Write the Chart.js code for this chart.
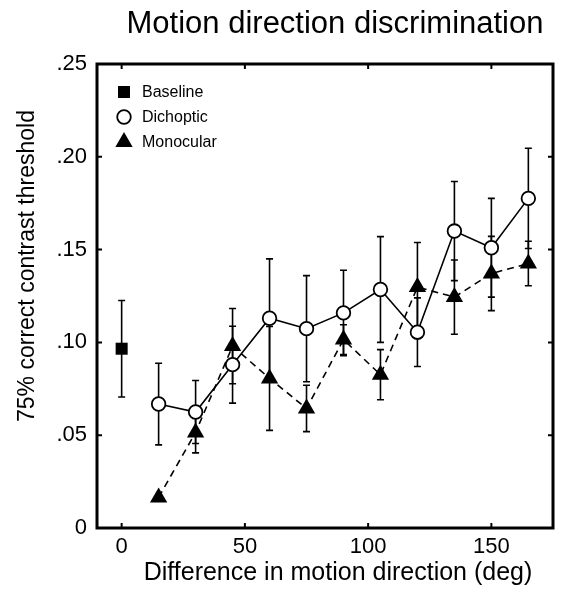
<!DOCTYPE html>
<html lang="en">
<head>
  <meta charset="UTF-8">
  <title>Motion direction discrimination</title>
  <script src="https://cdn.jsdelivr.net/npm/chart.js"></script>
  <style>
    body { margin: 0; background: #fff; }
    #chart { display: block; }
  </style>
</head>
<body>
  <canvas id="chart" width="563" height="599"></canvas>

  <script>
    // values
    var angles = [15, 30, 45, 60, 75, 90, 105, 120, 135, 150, 165];
    var dichoptic = [0.0668, 0.0625, 0.0880, 0.1130, 0.1074, 0.1159, 0.1285, 0.1055, 0.1600, 0.1510, 0.1776];
    var dichopticErr = [0.022, 0.017, 0.0207, 0.032, 0.0286, 0.023, 0.0285, 0.0185, 0.0267, 0.0266, 0.027];
    var monocular = [0.0165, 0.0515, 0.0980, 0.0806, 0.0644, 0.1015, 0.0826, 0.1298, 0.1244, 0.1371, 0.1425];
    var monocularErr = [0, 0.011, 0.0203, 0.028, 0.0125, 0.008, 0.0135, 0.024, 0.020, 0.020, 0.012];
    var baselineX = [0];
    var baseline = [0.0966];
    var baselineErr = [0.026];

    var xTicks = [0, 50, 100, 150];
    var yTicks = [0, 0.05, 0.10, 0.15, 0.20, 0.25];
    var legendNames = ['Baseline', 'Dichoptic', 'Monocular'];

    var FONT = "'Liberation Sans', Arial, Helvetica, sans-serif";

    function toPoints(xs, ys) {
      return xs.map(function(x, i) { return { x: x, y: ys[i] }; });
    }

    // error bars, frame with inward ticks, title, axis titles and legend
    var decor = {
      id: 'decor',
      beforeDatasetsDraw: function(chart) {
        var ctx = chart.ctx;
        var xs = chart.scales.x, ys = chart.scales.y;
        ctx.save();
        ctx.strokeStyle = '#000';
        ctx.lineWidth = 1.6;
        chart.data.datasets.forEach(function(ds) {
          ds.data.forEach(function(p, i) {
            var e = ds.errors[i];
            if (!e) return;
            var px = xs.getPixelForValue(p.x);
            var top = ys.getPixelForValue(p.y + e);
            var bot = ys.getPixelForValue(p.y - e);
            ctx.beginPath();
            ctx.moveTo(px, top); ctx.lineTo(px, bot);
            ctx.moveTo(px - 3.5, top); ctx.lineTo(px + 3.5, top);
            ctx.moveTo(px - 3.5, bot); ctx.lineTo(px + 3.5, bot);
            ctx.stroke();
          });
        });
        ctx.restore();
      },
      afterDraw: function(chart) {
        var ctx = chart.ctx;
        var a = chart.chartArea;
        var xs = chart.scales.x, ys = chart.scales.y;
        ctx.save();
        ctx.strokeStyle = '#000';
        ctx.lineWidth = 3;
        ctx.strokeRect(a.left, a.top, a.right - a.left, a.bottom - a.top);

        ctx.lineWidth = 2;
        ctx.beginPath();
        xTicks.forEach(function(v) {
          var px = xs.getPixelForValue(v);
          ctx.moveTo(px, a.bottom); ctx.lineTo(px, a.bottom - 5);
          ctx.moveTo(px, a.top); ctx.lineTo(px, a.top + 5);
        });
        yTicks.forEach(function(v) {
          var py = ys.getPixelForValue(v);
          ctx.moveTo(a.left, py); ctx.lineTo(a.left + 5, py);
          ctx.moveTo(a.right, py); ctx.lineTo(a.right - 5, py);
        });
        ctx.stroke();

        ctx.fillStyle = '#000';
        ctx.textAlign = 'center';
        ctx.textBaseline = 'middle';
        ctx.font = '31px ' + FONT;
        ctx.fillText('Motion direction discrimination', 335, 24);

        ctx.font = '25px ' + FONT;
        ctx.fillText('Difference in motion direction (deg)', 338, 573);

        ctx.save();
        ctx.translate(28, 266);
        ctx.rotate(-Math.PI / 2);
        ctx.font = '23px ' + FONT;
        ctx.fillText('75% correct contrast threshold', 0, 0);
        ctx.restore();

        // legend
        ctx.font = '16px ' + FONT;
        ctx.textAlign = 'left';
        chart.data.datasets.forEach(function(ds, i) {
          var ly = 92 + i * 25;
          ctx.fillStyle = ds.pointBackgroundColor;
          ctx.strokeStyle = '#000';
          ctx.lineWidth = ds.pointBorderWidth;
          Chart.helpers.drawPoint(ctx, {
            pointStyle: ds.pointStyle,
            radius: ds.pointRadius,
            rotation: 0,
            borderWidth: ds.pointBorderWidth
          }, 124, ly);
          ctx.fillStyle = '#000';
          ctx.fillText(legendNames[i], 142, ly + 1);
        });
        ctx.restore();
      }
    };

    var ctx = document.getElementById('chart').getContext('2d');
    var chart = new Chart(ctx, {
      type: 'line',
      data: {
        datasets: [
          {
            label: 'Baseline',
            data: toPoints(baselineX, baseline),
            errors: baselineErr,
            showLine: false,
            pointStyle: 'rect',
            pointRadius: 8.5,
            pointBackgroundColor: '#000',
            pointBorderColor: '#000',
            pointBorderWidth: 0
          },
          {
            label: 'Dichoptic',
            data: toPoints(angles, dichoptic),
            errors: dichopticErr,
            borderColor: '#000',
            borderWidth: 1.6,
            pointStyle: 'circle',
            pointRadius: 6.8,
            pointBackgroundColor: '#fff',
            pointBorderColor: '#000',
            pointBorderWidth: 1.8
          },
          {
            label: 'Monocular',
            data: toPoints(angles, monocular),
            errors: monocularErr,
            borderColor: '#000',
            borderWidth: 1.6,
            borderDash: [7, 5],
            pointStyle: 'triangle',
            pointRadius: 10,
            pointBackgroundColor: '#000',
            pointBorderColor: '#000',
            pointBorderWidth: 0
          }
        ]
      },
      options: {
        responsive: false,
        animation: false,
        devicePixelRatio: 1,
        clip: false,
        layout: { padding: { top: 64, right: 3, left: 0, bottom: 0 } },
        scales: {
          x: {
            type: 'linear',
            min: -10,
            max: 175,
            afterFit: function(s) { s.height = 71; },
            afterBuildTicks: function(s) { s.ticks = xTicks.map(function(v) { return { value: v }; }); },
            grid: { display: false, drawTicks: false },
            border: { display: false },
            ticks: { color: '#000', padding: 6, font: { family: FONT, size: 22 } }
          },
          y: {
            min: 0,
            max: 0.25,
            afterFit: function(s) { s.width = 97; },
            afterBuildTicks: function(s) { s.ticks = yTicks.map(function(v) { return { value: v }; }); },
            grid: { display: false, drawTicks: false },
            border: { display: false },
            ticks: {
              color: '#000',
              padding: 10,
              font: { family: FONT, size: 22 },
              callback: function(v) { return v === 0 ? '0' : v.toFixed(2).replace(/^0/, ''); }
            }
          }
        },
        plugins: {
          legend: { display: false },
          title: { display: false },
          tooltip: { enabled: false }
        }
      },
      plugins: [decor]
    });
  </script>
</body>
</html>
